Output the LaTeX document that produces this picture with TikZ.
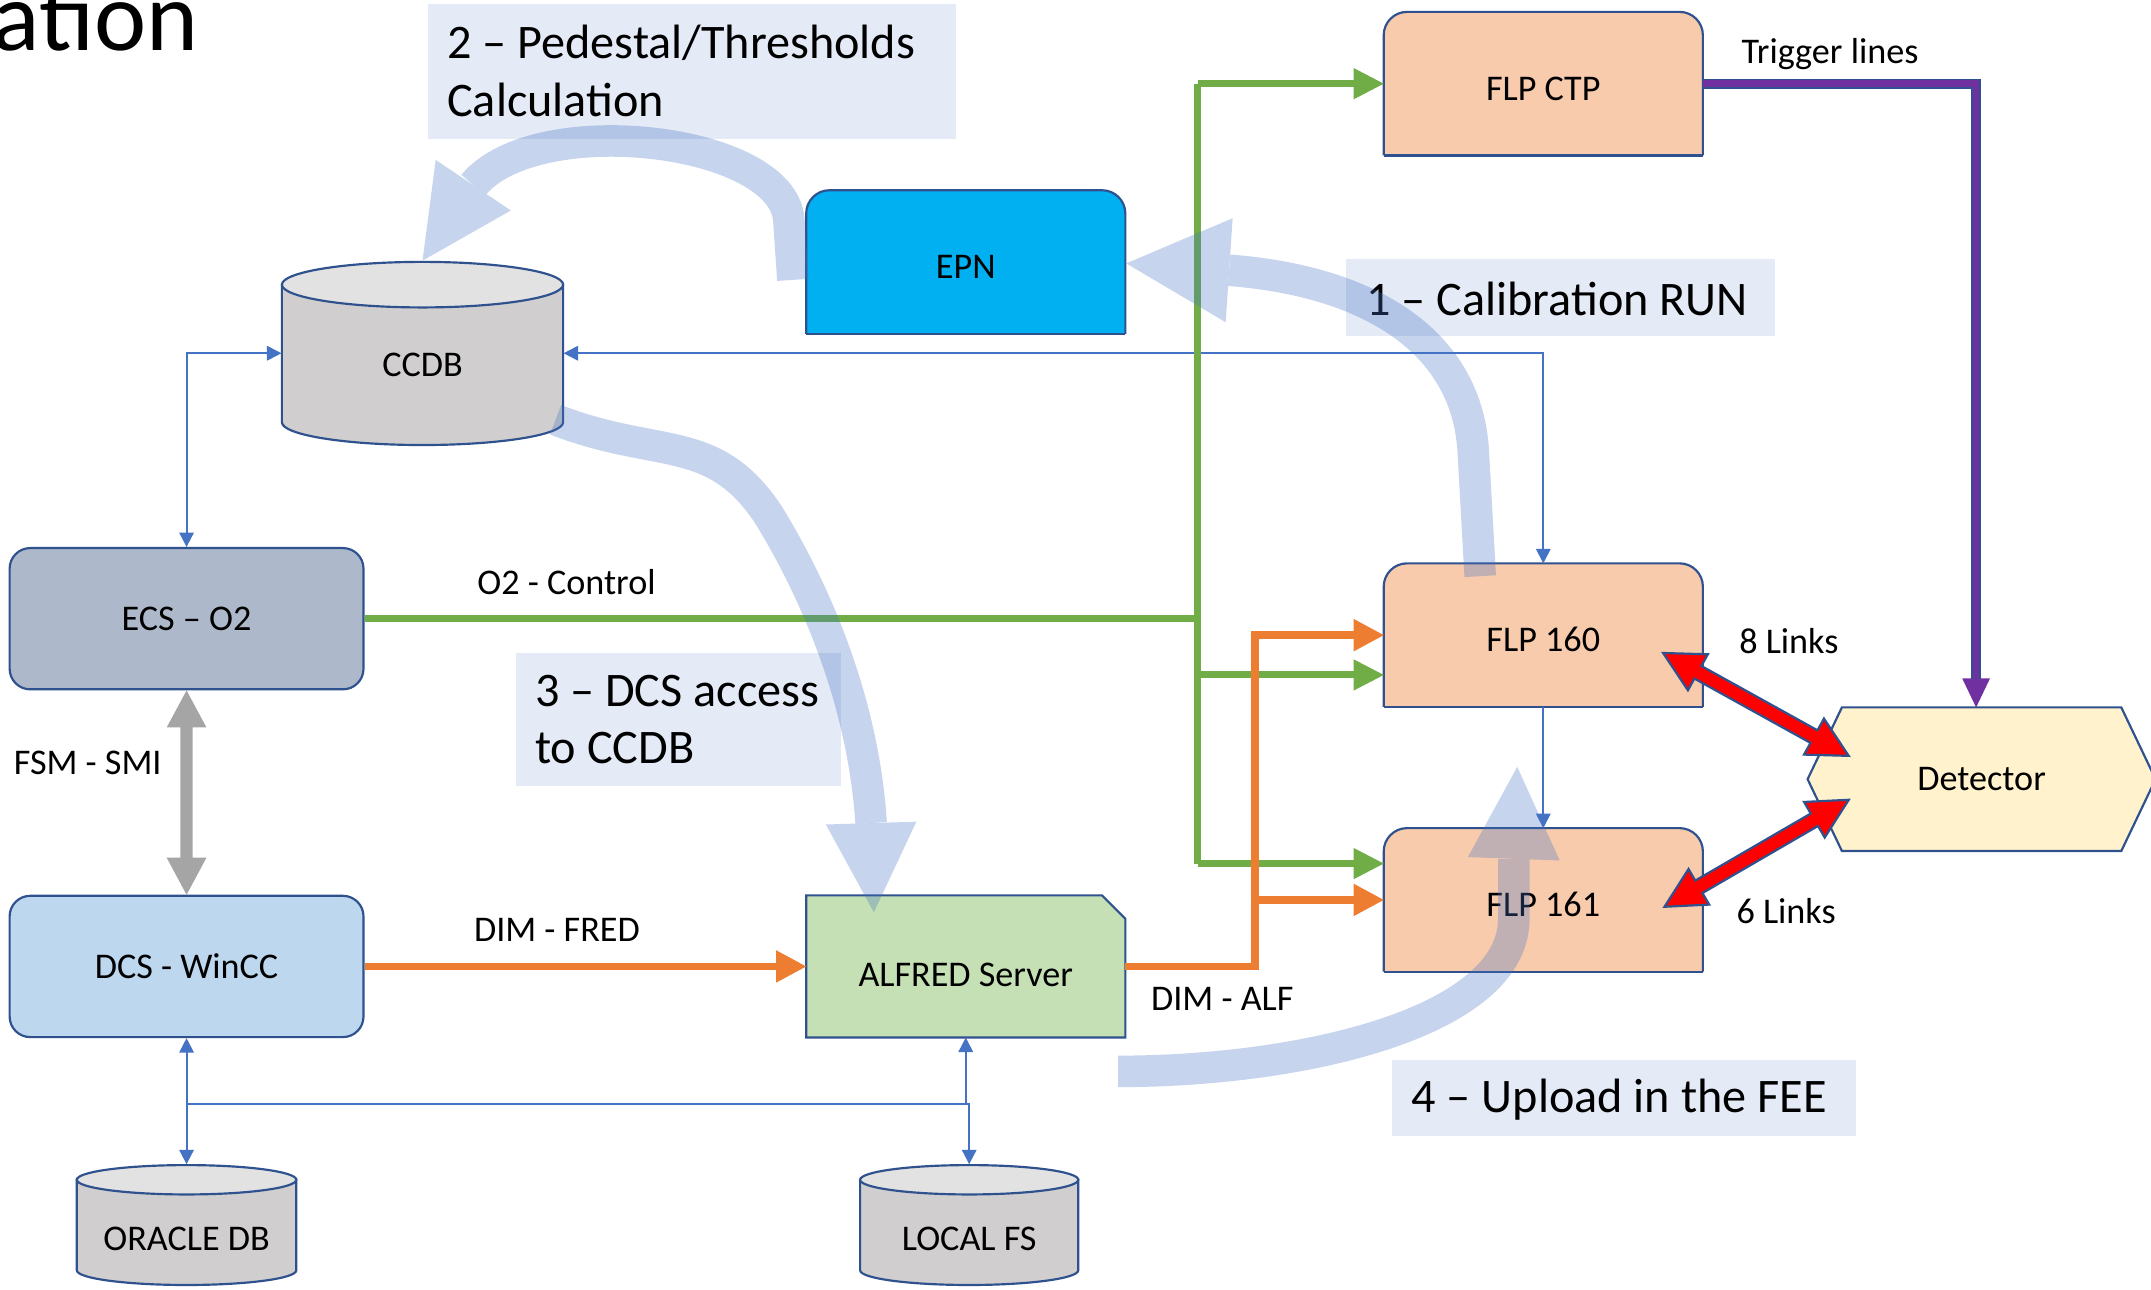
\documentclass[tikz,border=0pt]{standalone}
\usepackage{fontspec}
\setmainfont{Carlito}
\usetikzlibrary{arrows.meta,calc}
\definecolor{bord}{HTML}{2F528F}
\definecolor{conn}{HTML}{4472C4}
\definecolor{grn}{HTML}{70AD47}
\definecolor{org}{HTML}{ED7D31}
\definecolor{prp}{HTML}{7030A0}
\definecolor{lblfill}{HTML}{E4EAF6}
\definecolor{ecsfill}{HTML}{ADB9CA}
\definecolor{dcsfill}{HTML}{BDD7EE}
\definecolor{alffill}{HTML}{C5E0B4}
\definecolor{flpfill}{HTML}{F8CBAD}
\definecolor{epnfill}{HTML}{00B0F0}
\definecolor{detfill}{HTML}{FFF2CC}
\definecolor{cylbody}{HTML}{D0CECE}
\definecolor{cyltop}{HTML}{E2E2E2}
\definecolor{gry}{HTML}{A5A5A5}
\definecolor{redarr}{HTML}{FF0000}
\pgfdeclarelayer{bg}
\pgfsetlayers{bg,main}
\newcommand\topround[2]{%
  \fill[#2, rounded corners=0.34cm] (#1.south west) -- (#1.north west) -- (#1.north east) -- (#1.south east);
  \draw[outl, rounded corners=0.34cm] (#1.south west) -- (#1.north west) -- (#1.north east) -- (#1.south east);
  \draw[outl] (#1.south east) -- (#1.south west);}
\newcommand\snipbox[3]{%
  \filldraw[fill=#2, outl] (#1.south west) -- (#1.north west) -- ($(#1.north east)+(-#3,0)$) -- ($(#1.north east)+(0,#3)$) -- (#1.south east) -- cycle;}
\newcommand\dbcyl[5]{%
  \filldraw[fill=cylbody, outl] (#1-#4,#2) -- (#1-#4,#3) arc[start angle=180, end angle=0, x radius=#4, y radius=#5] -- (#1+#4,#2) -- cycle;
  \filldraw[fill=cyltop, outl] (#1,#2) ellipse [x radius=#4, y radius=#5];}
\newcommand\twohead[6]{%
  \coordinate (tha) at ($(#2)!#5!(#3)$);
  \coordinate (thb) at ($(#3)!#5!(#2)$);
  \path[#1] (#2) -- ($(tha)!#6!90:(#3)$) -- ($(tha)!#4!90:(#3)$) -- ($(thb)!#4!-90:(#2)$) -- ($(thb)!#6!-90:(#2)$) -- (#3) -- ($(thb)!#6!90:(#2)$) -- ($(thb)!#4!90:(#2)$) -- ($(tha)!#4!-90:(#3)$) -- ($(tha)!#6!-90:(#3)$) -- cycle;}
\newcommand\bighead[3]{%
  \fill[conn] (#2) -- ($(#1)!#3!90:(#2)$) -- ($(#1)!#3!-90:(#2)$) -- cycle;}
\begin{document}
\begin{tikzpicture}[x=0.02cm,y=-0.02cm,
  nodefont/.style={font=\fontsize{15}{18}\selectfont},
  lblbox/.style={fill=lblfill, inner sep=0pt},
  lbltext/.style={font=\fontsize{20}{24}\selectfont, align=left, inner sep=0pt, anchor=west},
  shapebox/.style={nodefont, inner sep=0pt, minimum width=4.64cm, minimum height=2.08cm},
  lowtext/.style={text height=13.7pt, text depth=0pt},
  rbox/.style={nodefont, draw=bord, line width=0.9pt, rounded corners=0.3cm, minimum width=5.16cm, minimum height=2.06cm, inner sep=0pt},
  txt/.style={nodefont, inner sep=1pt},
  outl/.style={draw=bord, line width=0.9pt},
  conline/.style={conn, line width=0.8pt},
  conarrow/.style={conline, -{Triangle[length=6pt,width=6pt]}},
  conboth/.style={conline, {Triangle[length=6pt,width=6pt]}-{Triangle[length=6pt,width=6pt]}},
  grnline/.style={grn, line width=2.9pt},
  grnarrow/.style={grnline, -{Triangle[length=12.5pt,width=13pt,line width=0pt]}},
  orgline/.style={org, line width=3.2pt},
  orgarrow/.style={orgline, -{Triangle[length=12.5pt,width=13.5pt,line width=0pt]}},
  bigshaft/.style={conn, line width=0.46cm}
]
\useasboundingbox (0,0) rectangle (1568,940);
\clip (0,0) rectangle (1568,940);

\node[anchor=base east, font=\fontsize{41}{48}\selectfont, inner sep=0pt] (title) at (145,37) {ation};

% label boxes
\node[lblbox, minimum width=7.7cm, minimum height=1.96cm] (lab2) at (504.5,52) {};
\node[lblbox, minimum width=6.26cm, minimum height=1.12cm] (lab1) at (1137.5,217) {};
\node[lblbox, minimum width=4.74cm, minimum height=1.94cm] (lab3) at (494.5,524.5) {};
\node[lblbox, minimum width=6.76cm, minimum height=1.1cm] (lab4) at (1184,800.5) {};
\node[lbltext] (lab2t) at ($(lab2.west)+(14,0)$) {2 – Pedestal/Thresholds\\Calculation};
\node[lbltext] (lab1t) at ($(lab1.west)+(15,1)$) {1 – Calibration RUN};
\node[lbltext] (lab3t) at ($(lab3.west)+(14,0)$) {3 – DCS access\\to CCDB};
\node[lbltext] (lab4t) at ($(lab4.west)+(14,1)$) {4 – Upload in the FEE};

% nodes
\node[rbox, fill=ecsfill] (ecs) at (136,451) {ECS – O2};
\node[rbox, fill=dcsfill] (dcs) at (136,704.5) {DCS - WinCC};
\node[shapebox, lowtext] (epn) at (704,191) {EPN};
\node[shapebox, lowtext] (flpctp) at (1125,61) {FLP CTP};
\node[shapebox, lowtext] (flp160) at (1125,463) {FLP 160};
\node[shapebox, lowtext] (flp161) at (1125,656) {FLP 161};
\node[shapebox, minimum height=2.06cm, text height=17pt, text depth=0pt] (alfred) at (704,704.5) {ALFRED Server};
\node[shapebox, minimum width=4.06cm] (det) at (1444.5,568) {Detector};
\node[shapebox, minimum width=4.1cm, minimum height=2.66cm, text height=19.3pt, text depth=0pt] (ccdb) at (308,257.5) {CCDB};
\node[shapebox, minimum width=3.2cm, minimum height=1.76cm, text height=21pt, text depth=0pt] (oracle) at (136,893) {ORACLE DB};
\node[shapebox, minimum width=3.18cm, minimum height=1.76cm, text height=21pt, text depth=0pt] (localfs) at (706.5,893) {LOCAL FS};

\begin{pgfonlayer}{bg}
  \fill[white] (0,0) rectangle (1568,940);
  \topround{epn}{epnfill}
  \topround{flpctp}{flpfill}
  \topround{flp160}{flpfill}
  \topround{flp161}{flpfill}
  \snipbox{alfred}{alffill}{17}
  \filldraw[fill=detfill, outl] (det.north west) -- (det.north east) -- ($(det.east)+(25,0)$) -- (det.south east) -- (det.south west) -- ($(det.west)+(-25,0)$) -- cycle;
  \dbcyl{308}{207.5}{307.8}{102.5}{16.6}
  \dbcyl{136}{860}{926}{80}{10.7}
  \dbcyl{706.5}{860}{926}{79.5}{10.7}
\end{pgfonlayer}

% edge labels
\node[txt, anchor=base] (o2c) at (413,433.5) {O2 - Control};
\node[txt, anchor=base] (dimfred) at (406,686.5) {DIM - FRED};
\node[txt, anchor=base] (dimalf) at (891,736.5) {DIM - ALF};
\node[txt, anchor=base] (fsm) at (64,564.5) {FSM - SMI};
\node[txt, anchor=base] (trig) at (1334,46) {Trigger lines};
\node[txt, anchor=base] (l8) at (1304,476.5) {8 Links};
\node[txt, anchor=base] (l6) at (1302,673.5) {6 Links};

% thin blue connectors
\coordinate (bus) at (0,805);
\draw[conboth] (ccdb.east) -| (flp160.north);
\draw[conboth] (ccdb.west) -| (ecs.north);
\draw[conarrow] (flp160.south) -- (flp161.north);
\draw[conboth] (dcs.south) -- (oracle.north);
\draw[conboth] (alfred.south) -- (alfred.south |- bus) -- (localfs.north |- bus) -- (localfs.north);
\draw[conline] (dcs.south |- bus) -- (alfred.south |- bus);

% green
\coordinate (gtop) at (873,61);
\coordinate (f160g) at ($(flp160.west)+(0,29)$);
\coordinate (f161g) at ($(flp161.west)+(0,-26.5)$);
\draw[grnline] (ecs.east) -- (ecs.east -| gtop);
\draw[grnline] (gtop) -- (f161g -| gtop);
\draw[grnarrow] (gtop) -- (flpctp.west);
\draw[grnarrow] (f160g -| gtop) -- (f160g);
\draw[grnarrow] (f161g -| gtop) -- (f161g);

% orange
\coordinate (ox) at (915,0);
\draw[orgarrow] (dcs.east) -- (alfred.west);
\draw[orgarrow] (alfred.east) -| (ox |- flp160.west) -- (flp160.west);
\draw[orgarrow] (ox |- flp161.west) -- (flp161.west);

% purple trigger
\coordinate (trigdrop) at ($(det.north)+(-4,0)$);
\draw[bord, line width=4.3pt, shorten >=11pt] (flpctp.east) -| (trigdrop);
\draw[prp, line width=2.8pt, -{Triangle[length=12pt,width=11.5pt,line width=0pt]}] (flpctp.east) -| (trigdrop);

% grey and red double arrows
\twohead{fill=gry}{ecs.south}{dcs.north}{0.09cm}{0.54cm}{0.29cm}
\coordinate (r1a) at ($(flp160.east)+(-29,13)$);
\coordinate (r1b) at ($(det.west)+(5,-17)$);
\coordinate (r2a) at ($(det.west)+(5,15)$);
\coordinate (r2b) at ($(flp161.east)+(-28,5)$);
\twohead{fill=redarr, draw=bord, line width=0.9pt}{r1a}{r1b}{0.105cm}{0.58cm}{0.3cm}
\twohead{fill=redarr, draw=bord, line width=0.9pt}{r2a}{r2b}{0.105cm}{0.58cm}{0.3cm}

% big translucent arrows
\coordinate (a1s) at (1079,420); \coordinate (a1m) at (1074,330);
\coordinate (a1b) at (896,197); \coordinate (a1t) at (821,192);
\coordinate (a2s) at (578,204); \coordinate (a2m) at (575,160);
\coordinate (a2b) at (345,135); \coordinate (a2t) at (308,190);
\coordinate (a3s) at (405,306); \coordinate (a3m) at (560,375);
\coordinate (a3b) at (635,600); \coordinate (a3t) at (637,665);
\coordinate (a4s) at (815,781); \coordinate (a4m) at (1103.5,670);
\coordinate (a4b) at (1103.5,626); \coordinate (a4t) at (1106,559);
\begin{scope}[transparency group, opacity=0.3]
  \draw[bigshaft] (a1s) -- (a1m) .. controls (1070,250) and (1000,205) .. (a1b);
  \bighead{a1b}{a1t}{0.76cm}
  \draw[bigshaft] (a2s) -- (a2m) .. controls (570,100) and (390,80) .. (a2b);
  \bighead{a2b}{a2t}{0.66cm}
  \draw[bigshaft] (a3s) .. controls (480,335) and (520,315) .. (a3m) .. controls (600,440) and (630,520) .. (a3b);
  \bighead{a3b}{a3t}{0.66cm}
  \draw[bigshaft] (a4s) .. controls (950,781) and (1103,745) .. (a4m) -- (a4b);
  \bighead{a4b}{a4t}{0.67cm}
\end{scope}
\end{tikzpicture}
\end{document}
